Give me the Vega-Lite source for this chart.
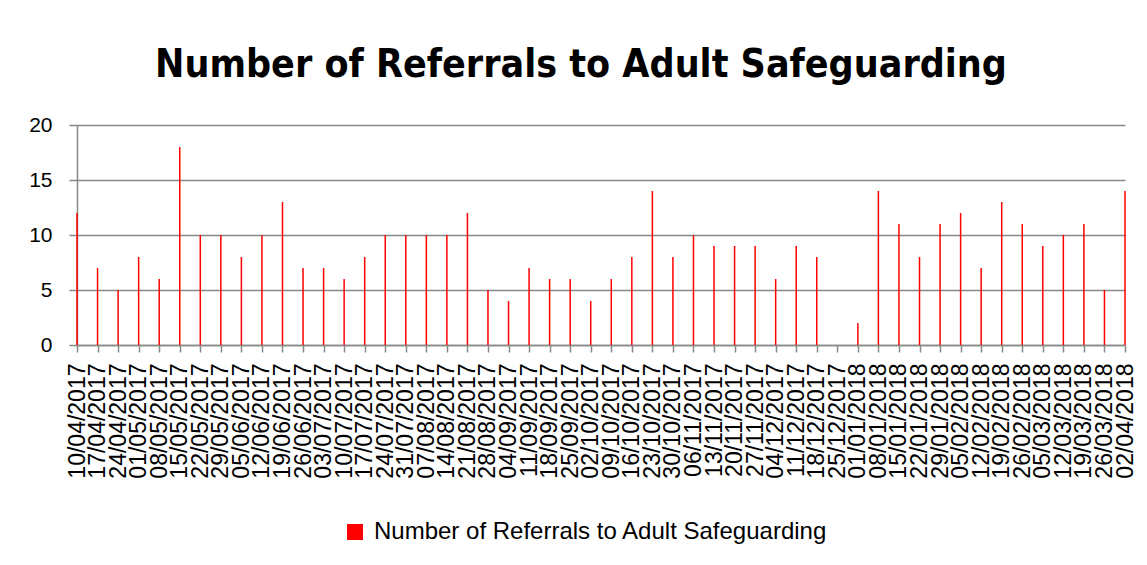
{
  "$schema": "https://vega.github.io/schema/vega-lite/v6.json",
  "autosize": "none",
  "width": 1048,
  "height": 220,
  "padding": {"left": 77, "top": 125, "right": 22, "bottom": 220},
  "background": "white",
  "title": {
    "text": "Number of Referrals to Adult Safeguarding",
    "font": "DejaVu Sans Condensed, Liberation Sans",
    "fontSize": 39,
    "fontWeight": "bold",
    "color": "black",
    "anchor": "middle",
    "dx": -20,
    "offset": 29
  },
  "data": {
    "values": [
      {"date": "10/04/2017", "referrals": 12, "series": "Number of Referrals to Adult Safeguarding"},
      {"date": "17/04/2017", "referrals": 7, "series": "Number of Referrals to Adult Safeguarding"},
      {"date": "24/04/2017", "referrals": 5, "series": "Number of Referrals to Adult Safeguarding"},
      {"date": "01/05/2017", "referrals": 8, "series": "Number of Referrals to Adult Safeguarding"},
      {"date": "08/05/2017", "referrals": 6, "series": "Number of Referrals to Adult Safeguarding"},
      {"date": "15/05/2017", "referrals": 18, "series": "Number of Referrals to Adult Safeguarding"},
      {"date": "22/05/2017", "referrals": 10, "series": "Number of Referrals to Adult Safeguarding"},
      {"date": "29/05/2017", "referrals": 10, "series": "Number of Referrals to Adult Safeguarding"},
      {"date": "05/06/2017", "referrals": 8, "series": "Number of Referrals to Adult Safeguarding"},
      {"date": "12/06/2017", "referrals": 10, "series": "Number of Referrals to Adult Safeguarding"},
      {"date": "19/06/2017", "referrals": 13, "series": "Number of Referrals to Adult Safeguarding"},
      {"date": "26/06/2017", "referrals": 7, "series": "Number of Referrals to Adult Safeguarding"},
      {"date": "03/07/2017", "referrals": 7, "series": "Number of Referrals to Adult Safeguarding"},
      {"date": "10/07/2017", "referrals": 6, "series": "Number of Referrals to Adult Safeguarding"},
      {"date": "17/07/2017", "referrals": 8, "series": "Number of Referrals to Adult Safeguarding"},
      {"date": "24/07/2017", "referrals": 10, "series": "Number of Referrals to Adult Safeguarding"},
      {"date": "31/07/2017", "referrals": 10, "series": "Number of Referrals to Adult Safeguarding"},
      {"date": "07/08/2017", "referrals": 10, "series": "Number of Referrals to Adult Safeguarding"},
      {"date": "14/08/2017", "referrals": 10, "series": "Number of Referrals to Adult Safeguarding"},
      {"date": "21/08/2017", "referrals": 12, "series": "Number of Referrals to Adult Safeguarding"},
      {"date": "28/08/2017", "referrals": 5, "series": "Number of Referrals to Adult Safeguarding"},
      {"date": "04/09/2017", "referrals": 4, "series": "Number of Referrals to Adult Safeguarding"},
      {"date": "11/09/2017", "referrals": 7, "series": "Number of Referrals to Adult Safeguarding"},
      {"date": "18/09/2017", "referrals": 6, "series": "Number of Referrals to Adult Safeguarding"},
      {"date": "25/09/2017", "referrals": 6, "series": "Number of Referrals to Adult Safeguarding"},
      {"date": "02/10/2017", "referrals": 4, "series": "Number of Referrals to Adult Safeguarding"},
      {"date": "09/10/2017", "referrals": 6, "series": "Number of Referrals to Adult Safeguarding"},
      {"date": "16/10/2017", "referrals": 8, "series": "Number of Referrals to Adult Safeguarding"},
      {"date": "23/10/2017", "referrals": 14, "series": "Number of Referrals to Adult Safeguarding"},
      {"date": "30/10/2017", "referrals": 8, "series": "Number of Referrals to Adult Safeguarding"},
      {"date": "06/11/2017", "referrals": 10, "series": "Number of Referrals to Adult Safeguarding"},
      {"date": "13/11/2017", "referrals": 9, "series": "Number of Referrals to Adult Safeguarding"},
      {"date": "20/11/2017", "referrals": 9, "series": "Number of Referrals to Adult Safeguarding"},
      {"date": "27/11/2017", "referrals": 9, "series": "Number of Referrals to Adult Safeguarding"},
      {"date": "04/12/2017", "referrals": 6, "series": "Number of Referrals to Adult Safeguarding"},
      {"date": "11/12/2017", "referrals": 9, "series": "Number of Referrals to Adult Safeguarding"},
      {"date": "18/12/2017", "referrals": 8, "series": "Number of Referrals to Adult Safeguarding"},
      {"date": "25/12/2017", "referrals": 0, "series": "Number of Referrals to Adult Safeguarding"},
      {"date": "01/01/2018", "referrals": 2, "series": "Number of Referrals to Adult Safeguarding"},
      {"date": "08/01/2018", "referrals": 14, "series": "Number of Referrals to Adult Safeguarding"},
      {"date": "15/01/2018", "referrals": 11, "series": "Number of Referrals to Adult Safeguarding"},
      {"date": "22/01/2018", "referrals": 8, "series": "Number of Referrals to Adult Safeguarding"},
      {"date": "29/01/2018", "referrals": 11, "series": "Number of Referrals to Adult Safeguarding"},
      {"date": "05/02/2018", "referrals": 12, "series": "Number of Referrals to Adult Safeguarding"},
      {"date": "12/02/2018", "referrals": 7, "series": "Number of Referrals to Adult Safeguarding"},
      {"date": "19/02/2018", "referrals": 13, "series": "Number of Referrals to Adult Safeguarding"},
      {"date": "26/02/2018", "referrals": 11, "series": "Number of Referrals to Adult Safeguarding"},
      {"date": "05/03/2018", "referrals": 9, "series": "Number of Referrals to Adult Safeguarding"},
      {"date": "12/03/2018", "referrals": 10, "series": "Number of Referrals to Adult Safeguarding"},
      {"date": "19/03/2018", "referrals": 11, "series": "Number of Referrals to Adult Safeguarding"},
      {"date": "26/03/2018", "referrals": 5, "series": "Number of Referrals to Adult Safeguarding"},
      {"date": "02/04/2018", "referrals": 14, "series": "Number of Referrals to Adult Safeguarding"}
    ]
  },
  "mark": {"type": "bar", "width": 1.5},
  "encoding": {
    "x": {
      "field": "date",
      "type": "ordinal",
      "sort": null,
      "scale": {"type": "point", "padding": 0},
      "axis": {
        "title": null,
        "labelAngle": -90,
        "labelAlign": "right",
        "labelBaseline": "middle",
        "labelFont": "Liberation Sans",
        "labelFontSize": 23,
        "labelColor": "black",
        "labelPadding": 11,
        "labelOverlap": false,
        "labelBound": false,
        "tickSize": 7,
        "tickColor": "#888888",
        "tickWidth": 1.5,
        "domainColor": "#888888",
        "domainWidth": 1.5,
        "grid": false
      }
    },
    "y": {
      "field": "referrals",
      "type": "quantitative",
      "scale": {"domain": [0, 20]},
      "axis": {
        "title": null,
        "values": [0, 5, 10, 15, 20],
        "labelFont": "Liberation Sans",
        "labelFontSize": 21,
        "labelColor": "black",
        "labelPadding": 17,
        "tickSize": 8,
        "tickColor": "#888888",
        "tickWidth": 1.5,
        "domainColor": "#888888",
        "domainWidth": 1.5,
        "grid": true,
        "gridColor": "#888888",
        "gridWidth": 1.5
      }
    },
    "color": {
      "field": "series",
      "type": "nominal",
      "scale": {"range": ["#FF0000"]},
      "legend": {
        "title": null,
        "orient": "none",
        "legendX": 266,
        "legendY": 395,
        "symbolType": "square",
        "symbolSize": 256,
        "symbolStrokeWidth": 0,
        "labelFont": "Liberation Sans",
        "labelFontSize": 24,
        "labelLimit": 0,
        "labelColor": "black",
        "labelOffset": 7,
        "padding": 0
      }
    }
  },
  "config": {
    "view": {"stroke": null}
  }
}
